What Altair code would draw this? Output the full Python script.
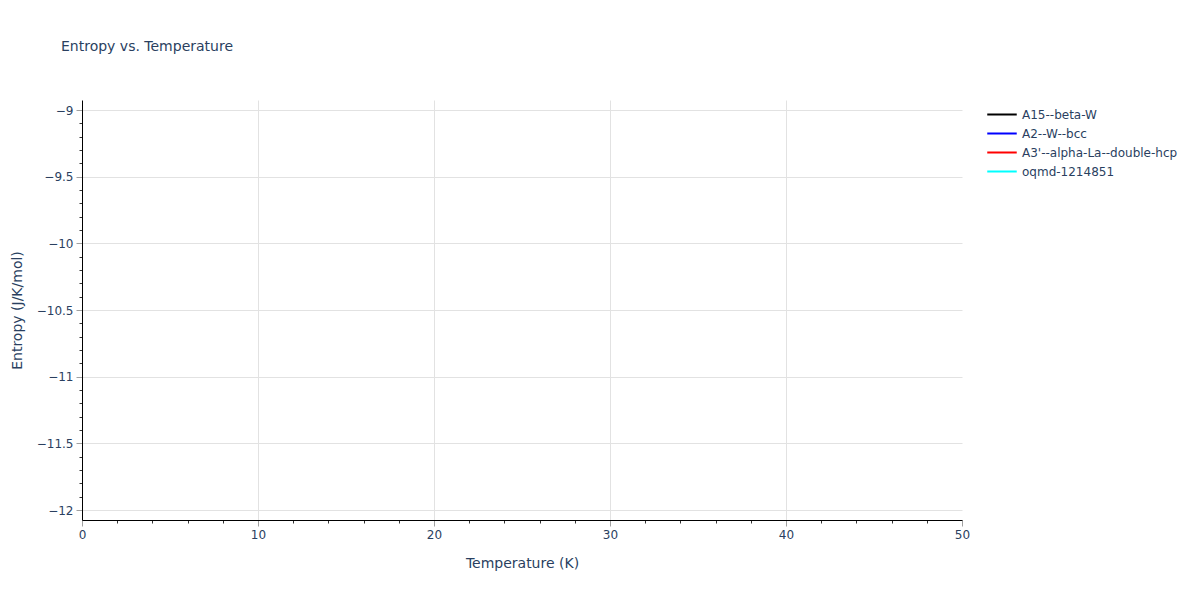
import altair as alt
import numpy as np
import pandas as pd

# series names and colours (the reference shows no visible curves, only legend entries)
series = ["A15--beta-W", "A2--W--bcc", "A3'--alpha-La--double-hcp", "oqmd-1214851"]
colors = ["#000000", "#0000ff", "#ff0000", "#00ffff"]
temperature = [None, None, None, None]
entropy = [None, None, None, None]

x_major = [0, 10, 20, 30, 40, 50]
y_major = [-12, -11.5, -11, -10.5, -10, -9.5, -9]
x_ticks = list(range(0, 51, 2))
y_ticks = [round(v, 1) for v in np.arange(-12.0, -8.95, 0.1)]

df = pd.DataFrame({"series": series, "T": temperature, "S": entropy})

TEXT = "#2a3f5f"
FONT = "DejaVu Sans"

x_is_major = "datum.value % 10 == 0"
y_is_major = "abs(datum.value * 2 - round(datum.value * 2)) < 1e-6"

x_axis = alt.Axis(
    values=x_ticks,
    labelExpr=f"{x_is_major} ? format(datum.value, '~g') : ''",
    labelFlush=False,
    title="Temperature (K)",
    grid=True,
    gridColor="#e2e2e2",
    gridOpacity={"condition": {"test": f"{x_is_major} && datum.value > 0 && datum.value < 50", "value": 1}, "value": 0},
    tickSize={"condition": {"test": x_is_major, "value": 6}, "value": 3},
    tickColor={"condition": {"test": x_is_major, "value": "#a0a0a0"}, "value": "#333333"},
    domainColor="#000000",
    labelPadding=3,
    titlePadding=16,
)

y_axis = alt.Axis(
    values=y_ticks,
    labelExpr=f"{y_is_major} ? format(datum.value, '~g') : ''",
    labelFlush=False,
    title="Entropy (J/K/mol)",
    grid=True,
    gridColor="#e2e2e2",
    gridOpacity={"condition": {"test": y_is_major, "value": 1}, "value": 0},
    tickSize={"condition": {"test": y_is_major, "value": 6}, "value": 3},
    tickColor={"condition": {"test": y_is_major, "value": "#a0a0a0"}, "value": "#333333"},
    domainColor="#000000",
    labelPadding=3,
    titlePadding=12,
)

chart = alt.Chart(df).mark_line(strokeWidth=2).encode(
    x=alt.X("T:Q", scale=alt.Scale(domain=[0, 50], nice=False, zero=False), axis=x_axis),
    y=alt.Y("S:Q", scale=alt.Scale(domain=[-12.075, -8.925], nice=False, zero=False), axis=y_axis),
    color=alt.Color(
        "series:N",
        scale=alt.Scale(domain=series, range=colors),
        legend=alt.Legend(
            title=None,
            orient="none",
            legendX=904,
            legendY=5,
            symbolType="stroke",
            symbolSize=870,
            symbolStrokeWidth=2,
            clipHeight=19,
            rowPadding=0,
            labelLimit=300,
            labelOffset=4,
        ),
    ),
).properties(
    width=880,
    height=420,
    title=alt.TitleParams(
        "Entropy vs. Temperature",
        anchor="start",
        frame="group",
        dx=-21,
        offset=39,
        baseline="middle",
        fontSize=14,
        fontWeight="normal",
        color=TEXT,
        font=FONT,
    ),
    autosize=alt.AutoSizeParams(type="none"),
    padding={"left": 74, "top": 92, "right": 220, "bottom": 70},
).configure_view(
    stroke=None
).configure_axis(
    labelFont=FONT,
    labelFontSize=12,
    labelColor=TEXT,
    titleFont=FONT,
    titleFontSize=14,
    titleFontWeight="normal",
    titleColor=TEXT,
).configure_legend(
    labelFont=FONT,
    labelFontSize=12,
    labelColor=TEXT,
)

chart.save("out.html", embed_options={"renderer": "svg", "actions": False})
